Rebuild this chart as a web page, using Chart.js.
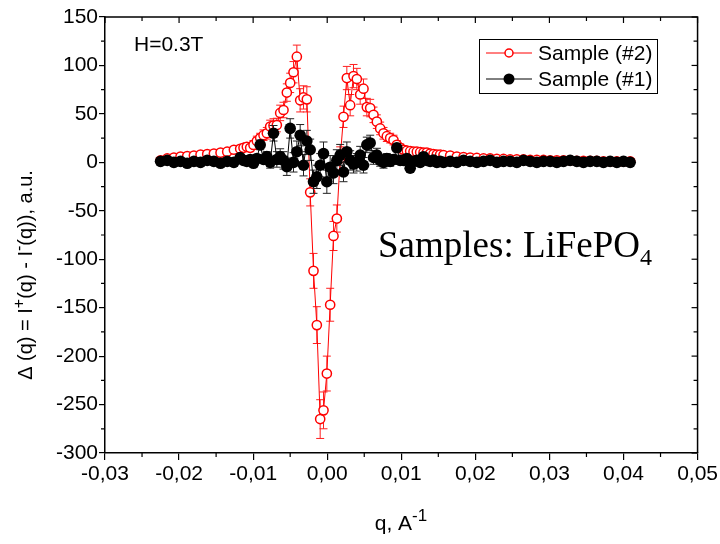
<!DOCTYPE html>
<html>
<head>
<meta charset="utf-8">
<script src="https://cdn.jsdelivr.net/npm/chart.js@4.4.1/dist/chart.umd.min.js"></script>
<style>
  html, body { margin: 0; padding: 0; background: #ffffff; }
  #wrap { width: 720px; height: 544px; position: relative; }
</style>
</head>
<body>
<div id="wrap"><canvas id="c" width="720" height="544"></canvas></div>
<script>
// ---------------- DATA ----------------
const qValues = [
  -0.0225, -0.0216, -0.0207, -0.0198, -0.0189, -0.0180, -0.0171, -0.0162, -0.0153, -0.0144, -0.0135, -0.0126,
  -0.01175, -0.0113, -0.01085, -0.0104, -0.00995, -0.0095, -0.00905, -0.0086, -0.00815, -0.0077,
  -0.00725, -0.0068, -0.00635, -0.0059, -0.00545, -0.005, -0.00455, -0.0041, -0.00365, -0.0032,
  -0.00275, -0.0023, -0.00185, -0.0014, -0.00095, -0.0005, -0.00005, 0.0004, 0.00085, 0.0013,
  0.00175, 0.0022, 0.00265, 0.0031, 0.00355, 0.004, 0.00445, 0.0049, 0.00535, 0.0058,
  0.00625, 0.0067, 0.00715, 0.0076, 0.00805, 0.0085, 0.00895, 0.0094, 0.00985, 0.0103,
  0.01075, 0.0112, 0.01165, 0.0121, 0.01255, 0.013, 0.01345, 0.0139, 0.01435, 0.0148,
  0.01525, 0.0157,
  0.0166, 0.0175, 0.0184, 0.0193, 0.0202, 0.0211, 0.0220, 0.0229, 0.0238, 0.0247,
  0.0256, 0.0265, 0.0274, 0.0283, 0.0292, 0.0301, 0.0310, 0.0319, 0.0328, 0.0337,
  0.0346, 0.0355, 0.0364, 0.0373, 0.0382, 0.0391, 0.0400, 0.0409
];

// Sample (#2) - red open circles
const sample2Values = [
  2, 4, 5, 6, 6.5, 7, 8, 8.5, 9, 10, 11, 13,
  14, 15, 16, 15, 18, 22, 25, 28, 30, 37,
  38, 38.5, 51, 54, 72, 82, 93, 109, 64, 67,
  65, -31, -112, -168, -265, -256, -218, -147, -76, -58,
  4, 47, 87, 59, 89, 86, 70, 76, 57, 56,
  49, 42, 35, 30, 27, 25, 23, 18, 15, 13,
  12, 11.5, 11, 11, 10.5, 10, 10, 9, 8.5, 8,
  8, 7.5,
  7, 6, 5.5, 5, 4.5, 4, 4, 3.5, 3.5, 3,
  3, 3, 2.5, 2.5, 2.5, 2, 2, 2, 2, 1.5,
  1.5, 1.5, 1.5, 1, 1, 1, 1, 1
];
const sample2Errors = [
  2, 2, 2, 2, 2, 2, 2, 2.5, 2.5, 3, 3, 3,
  3.5, 3.5, 4, 4, 4.5, 5, 5, 5.5, 6, 6.5,
  7, 7, 8, 8, 9, 10, 11, 12, 12, 12,
  13, 14, 18, 19, 20, 19, 18, 17, 15, 14,
  12, 11, 12, 11, 12, 11, 10, 10, 9, 9,
  8, 7, 6.5, 6, 5.5, 5, 5, 4.5, 4, 4,
  3.5, 3.5, 3, 3, 3, 3, 3, 3, 3, 3,
  3, 3,
  3, 3, 3, 3, 2.5, 2.5, 2.5, 2.5, 2.5, 2.5,
  2.5, 2.5, 2, 2, 2, 2, 2, 2, 2, 2,
  2, 2, 2, 2, 2, 2, 2, 2
];

// Sample (#1) - black filled circles
const sample1Values = [
  1, 2, 0, 1, -1, 1, 0, 2, 1, -1, 1, 0,
  5, 2, 1, 3, -1, 4, 18, 3, 6, 0,
  30, 3, 6, 2, -4.5, 35, 0, 11, 28, -3,
  22, 13, -20, -15, -3, 9, -20, -5, -11, 2,
  7.5, -10, 11, 2, -2, 0, 7.5, -3, 18, 20,
  5, 7.5, 2, 0, 4, 1, 3, 15, 2, 2,
  4, -6, 1, 2, 0, 5.8, 2, 1, 2.4, 0,
  1, 0,
  1, 0, 2, 1, 0, 1, 2, 0, 1, 1,
  0, 2, 1, 0, 1, 1, 0, 1, 2, 1,
  0, 1, 1, 0, 1, 0, 1, 0
];
const sample1Errors = [
  1.5, 1.5, 1.5, 1.5, 1.5, 1.5, 1.5, 1.5, 1.5, 1.5, 1.5, 1.5,
  3, 3, 3, 3, 3, 4, 5, 4, 5, 6,
  8, 8, 8, 9, 9, 10, 10, 11, 11, 11,
  11, 11, 12, 12, 12, 12, 12, 12, 11, 11,
  11, 10, 10, 10, 9, 9, 9, 8, 8, 8,
  7, 7, 6, 6, 5, 5, 5, 4, 4, 4,
  3, 3, 3, 3, 3, 3, 2.5, 2.5, 2.5, 2,
  2, 2,
  2, 2, 2, 2, 2, 2, 2, 2, 2, 2,
  2, 2, 2, 2, 2, 2, 2, 2, 2, 2,
  2, 2, 2, 2, 2, 2, 2, 2
];

const xTickMin = -0.03, xTickMax = 0.05, xTickStep = 0.01;
const yTickMin = -300, yTickMax = 150, yTickStep = 50;
const seriesNames = ['Sample (#2)', 'Sample (#1)'];
const seriesColors = ['#ff0000', '#000000'];
const errorColors = ['#ff2020', '#222222'];
const annotationField = 'H=0.3T';
const annotationSample = 'Samples: LiFePO';
const annotationSub = '4';
// y-axis title pieces: [text, isSuperscript]
const yTitleParts = [['Δ (q) = I', false], ['+', true], ['(q) - I', false], ['-', true], ['(q)), a.u.', false]];
const xTitleParts = [['q, A', false], ['-1', true]];

// ---------------- CHART ----------------
const SANS = '"Liberation Sans", Arial, sans-serif';
const SERIF = '"Liberation Serif", "Times New Roman", serif';
const errorSets = [sample2Errors, sample1Errors];
const valueSets = [sample2Values, sample1Values];

function drawRichText(ctx, parts, size, x, y) {
  // draws left-to-right starting at x, baseline y (in current transform)
  let cx = x;
  for (const [t, sup] of parts) {
    ctx.font = (sup ? Math.round(size * 0.8) : size) + 'px ' + SANS;
    ctx.fillText(t, cx, sup ? y - size * 0.42 : y);
    cx += ctx.measureText(t).width;
  }
}
function richWidth(ctx, parts, size) {
  let w = 0;
  for (const [t, sup] of parts) {
    ctx.font = (sup ? Math.round(size * 0.8) : size) + 'px ' + SANS;
    w += ctx.measureText(t).width;
  }
  return w;
}

const errorBarPlugin = {
  id: 'errorBars',
  beforeDatasetDraw(chart, args) {
    const i = args.index;
    const errs = errorSets[i], vals = valueSets[i];
    const xs = chart.scales.x, ys = chart.scales.y;
    const ctx = chart.ctx, a = chart.chartArea;
    ctx.save();
    ctx.beginPath();
    ctx.rect(a.left, a.top, a.right - a.left, a.bottom - a.top);
    ctx.clip();
    ctx.strokeStyle = errorColors[i];
    ctx.lineWidth = 1;
    for (let j = 0; j < qValues.length; j++) {
      const x = xs.getPixelForValue(qValues[j]);
      const y1 = ys.getPixelForValue(vals[j] + errs[j]);
      const y2 = ys.getPixelForValue(vals[j] - errs[j]);
      ctx.beginPath();
      ctx.moveTo(x, y1); ctx.lineTo(x, y2);
      ctx.moveTo(x - 4, y1); ctx.lineTo(x + 4, y1);
      ctx.moveTo(x - 4, y2); ctx.lineTo(x + 4, y2);
      ctx.stroke();
    }
    ctx.restore();
  }
};

const framePlugin = {
  id: 'frame',
  afterDraw(chart) {
    const ctx = chart.ctx, a = chart.chartArea;
    const xs = chart.scales.x, ys = chart.scales.y;
    ctx.save();
    ctx.strokeStyle = '#000';
    ctx.lineWidth = 1.5;
    ctx.beginPath();
    ctx.moveTo(a.left, a.top); ctx.lineTo(a.right, a.top); ctx.lineTo(a.right, a.bottom);
    ctx.stroke();
    ctx.lineWidth = 1.2;
    for (let v = yTickMin; v <= yTickMax + 1e-9; v += yTickStep / 2) {
      const y = ys.getPixelForValue(v);
      const major = Math.abs((v - yTickMin) % yTickStep) < 1e-6;
      ctx.beginPath();
      if (!major) { ctx.moveTo(a.left, y); ctx.lineTo(a.left - 4, y); }
      ctx.moveTo(a.right, y); ctx.lineTo(a.right - (major ? 6 : 4), y);
      ctx.stroke();
    }
    for (let k = 0; k <= 16; k++) {
      const v = xTickMin + k * xTickStep / 2;
      const x = xs.getPixelForValue(v);
      const major = k % 2 === 0;
      ctx.beginPath();
      if (!major) { ctx.moveTo(x, a.bottom); ctx.lineTo(x, a.bottom + 4); }
      ctx.moveTo(x, a.top); ctx.lineTo(x, a.top + (major ? 6 : 4));
      ctx.stroke();
    }
    // legend
    const lx = 479, ly = 39, lw = 178, lh = 54;
    ctx.lineWidth = 1;
    ctx.strokeRect(lx + 0.5, ly + 0.5, lw, lh);
    const rows = [53, 79];
    ctx.font = '21px ' + SANS;
    ctx.textBaseline = 'middle';
    ctx.textAlign = 'left';
    for (let i = 0; i < 2; i++) {
      const y = rows[i];
      ctx.strokeStyle = seriesColors[i];
      ctx.lineWidth = 1;
      ctx.beginPath();
      ctx.moveTo(486, y); ctx.lineTo(532, y);
      ctx.stroke();
      ctx.beginPath();
      ctx.arc(509, y, i === 0 ? 4 : 5.5, 0, Math.PI * 2);
      if (i === 0) { ctx.fillStyle = '#fff'; ctx.fill(); ctx.lineWidth = 1.5; ctx.stroke(); }
      else { ctx.fillStyle = '#000'; ctx.fill(); }
      ctx.fillStyle = '#000';
      ctx.font = '21px ' + SANS;
      ctx.fillText(seriesNames[i], 538, y + 1);
    }
    // annotations
    ctx.font = '21px ' + SANS;
    ctx.fillStyle = '#000';
    ctx.fillText(annotationField, 134, 45);
    ctx.font = '37px ' + SERIF;
    ctx.textBaseline = 'alphabetic';
    ctx.fillText(annotationSample, 378, 257);
    const w = ctx.measureText(annotationSample).width;
    ctx.font = '24px ' + SERIF;
    ctx.fillText(annotationSub, 378 + w, 265);
    // axis titles
    ctx.textBaseline = 'alphabetic';
    const xw = richWidth(ctx, xTitleParts, 21);
    drawRichText(ctx, xTitleParts, 21, 401 - xw / 2, 530);
    const yw = richWidth(ctx, yTitleParts, 20);
    ctx.translate(32, 275);
    ctx.rotate(-Math.PI / 2);
    drawRichText(ctx, yTitleParts, 20, -yw / 2, 0);
    ctx.restore();
  }
};

const toPoints = (vals) => qValues.map((q, j) => ({ x: q, y: vals[j] }));

new Chart(document.getElementById('c'), {
  type: 'line',
  data: {
    datasets: [
      {
        label: seriesNames[0],
        data: toPoints(sample2Values),
        borderColor: seriesColors[0],
        borderWidth: 1,
        pointRadius: 4.6,
        pointBorderWidth: 1.5,
        pointBorderColor: seriesColors[0],
        pointBackgroundColor: '#ffffff',
        tension: 0,
        order: 2
      },
      {
        label: seriesNames[1],
        data: toPoints(sample1Values),
        borderColor: seriesColors[1],
        borderWidth: 1,
        pointRadius: 5.8,
        pointBorderWidth: 0,
        pointBorderColor: seriesColors[1],
        pointBackgroundColor: seriesColors[1],
        tension: 0,
        order: 1
      }
    ]
  },
  options: {
    responsive: false,
    animation: false,
    devicePixelRatio: 1,
    layout: { padding: { top: 17, right: 20, left: 0, bottom: 0 } },
    plugins: { legend: { display: false }, tooltip: { enabled: false } },
    scales: {
      x: {
        type: 'linear',
        min: xTickMin, max: xTickMax,
        afterFit(s) { s.height = 91; },
        ticks: {
          stepSize: xTickStep,
          color: '#000',
          font: { family: SANS, size: 21 },
          padding: 2,
          maxRotation: 0,
          autoSkip: false,
          callback: (v) => Math.abs(v) < 1e-9 ? '0,00' : Number(v).toFixed(2).replace('.', ',')
        },
        grid: { display: true, drawOnChartArea: false, drawTicks: true, tickLength: 7, color: '#000', lineWidth: 1.2 },
        border: { display: true, color: '#000', width: 1.5 },
        title: { display: false }
      },
      y: {
        min: yTickMin, max: yTickMax,
        afterFit(s) { s.width = 105; },
        ticks: {
          stepSize: yTickStep,
          color: '#000',
          font: { family: SANS, size: 21 },
          padding: 1
        },
        grid: { display: true, drawOnChartArea: false, drawTicks: true, tickLength: 6, color: '#000', lineWidth: 1.2 },
        border: { display: true, color: '#000', width: 1.5 },
        title: { display: false }
      }
    }
  },
  plugins: [errorBarPlugin, framePlugin]
});
</script>
</body>
</html>
